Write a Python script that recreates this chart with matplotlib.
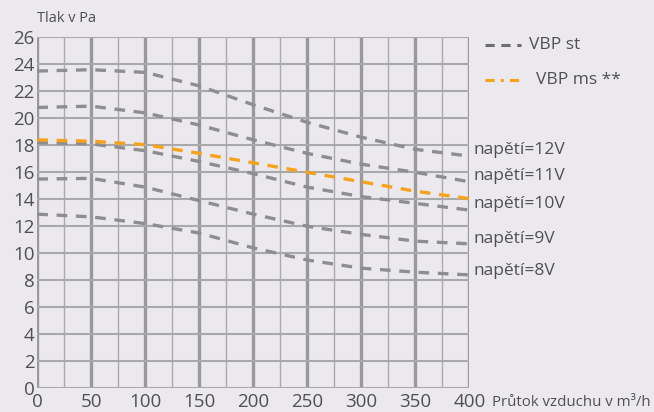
import matplotlib.pyplot as plt
from matplotlib.lines import Line2D

# data
flow = [0, 50, 100, 150, 200, 250, 300, 350, 400]
st_12v = [23.5, 23.6, 23.4, 22.4, 21.0, 19.7, 18.6, 17.7, 17.2]
st_11v = [20.8, 20.9, 20.4, 19.5, 18.4, 17.4, 16.6, 16.0, 15.3]
st_10v = [18.2, 18.1, 17.6, 16.8, 15.9, 14.9, 14.2, 13.7, 13.2]
st_9v = [15.5, 15.55, 14.9, 13.9, 12.9, 12.0, 11.4, 10.9, 10.7]
st_8v = [12.9, 12.7, 12.2, 11.5, 10.4, 9.5, 8.9, 8.6, 8.4]
ms = [18.4, 18.3, 18.05, 17.4, 16.7, 16.0, 15.3, 14.6, 14.05]

voltage_labels = ['napětí=12V', 'napětí=11V', 'napětí=10V', 'napětí=9V', 'napětí=8V']
label_y = [17.65, 15.7, 13.65, 11.05, 8.67]

bg = '#ebe9ee'
gray = '#8e8e8e'
orange = '#f7a21b'
txt = '#505050'

plt.rcParams['font.family'] = ['Open Sans', 'DejaVu Sans']

fig = plt.figure(figsize=(6.54, 4.12), dpi=100, facecolor=bg)
ax = fig.add_axes([0.057, 0.0575, 0.6606, 0.852], facecolor=bg)

ax.set_xlim(0, 400)
ax.set_ylim(0, 26)

# grid
for x in range(0, 401, 25):
    if x % 50 == 0:
        ax.axvline(x, color='#999999', lw=2.4, zorder=1)
    else:
        ax.axvline(x, color='#aaaaaa', lw=1.0, zorder=1)
for y in range(0, 27, 2):
    ax.axhline(y, color='#a9a9a9', lw=1.5, zorder=1)

for s in ax.spines.values():
    s.set_visible(False)

dash = (0, (3.2, 2.6))
for series in [st_12v, st_11v, st_10v, st_9v, st_8v]:
    ax.plot(flow, series, color=gray, lw=2.4, linestyle=dash, zorder=3)
ax.plot(flow, ms, color=orange, lw=2.4, linestyle=dash, zorder=4)

ax.set_xticks(range(0, 401, 50))
ax.set_yticks(range(0, 27, 2))
ax.tick_params(length=0, labelsize=13.5, colors=txt)
ax.tick_params(axis='x', pad=3.5)
ax.tick_params(axis='y', pad=2)

for lab, y in zip(voltage_labels, label_y):
    ax.text(404, y, lab, fontsize=12.5, color=txt, va='center', ha='left',
            clip_on=False)

fig.text(0.057, 0.955, 'Tlak v Pa', fontsize=10.5, color=txt, ha='left',
         va='center')
fig.text(0.752, 0.022, 'Průtok vzduchu v m³/h', fontsize=10.8, color=txt,
         ha='left', va='center')

# legend
fig.add_artist(Line2D([0.741, 0.797], [0.89, 0.89], color='#6e6e6e', lw=2.2,
                      linestyle=(0, (3.0, 2.2))))
fig.text(0.809, 0.89, 'VBP st', fontsize=12.5, color=txt, va='center')
fig.add_artist(Line2D([0.741, 0.797], [0.806, 0.806], color=orange, lw=2.2,
                      linestyle=(0, (3.0, 2.0, 1.0, 2.0))))
fig.text(0.82, 0.806, 'VBP ms **', fontsize=12.5, color=txt, va='center')

fig.savefig('out.png', dpi=100, facecolor=bg)
